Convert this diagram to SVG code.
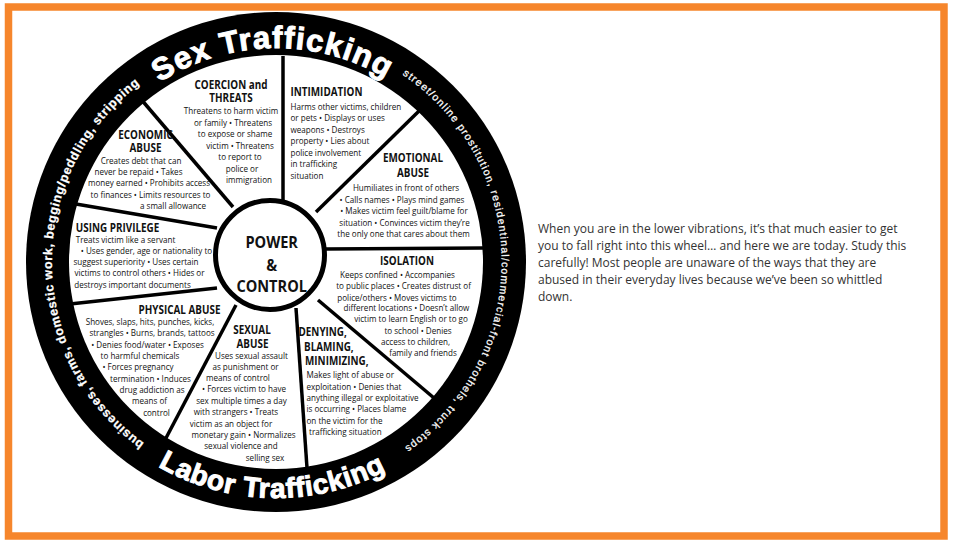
<svg xmlns="http://www.w3.org/2000/svg" xmlns:xlink="http://www.w3.org/1999/xlink" width="953" height="547" viewBox="0 0 953 547">
<style>
.b{font-family:"Open Sans","Liberation Sans",sans-serif;font-size:9.4px;fill:#111;text-anchor:middle}
.bl{font-family:"Open Sans","Liberation Sans",sans-serif;font-size:9.4px;fill:#111;text-anchor:start}
.h{font-family:"Open Sans","Liberation Sans",sans-serif;font-size:11.5px;font-weight:700;fill:#111;text-anchor:middle}
.hl{font-family:"Open Sans","Liberation Sans",sans-serif;font-size:11.5px;font-weight:700;fill:#111;text-anchor:start}
.hub{font-family:"Open Sans","Liberation Sans",sans-serif;font-size:15.5px;font-weight:700;fill:#111;text-anchor:middle}
.big{font-family:"Liberation Sans",Arial,sans-serif;font-weight:700;fill:#fff;stroke:#fff;stroke-width:1}
.ring{font-family:"Liberation Sans",Arial,sans-serif;fill:#fff;stroke:#fff;stroke-width:0.25}
.spoke{stroke:#000;stroke-width:3.5;fill:none;stroke-linecap:butt}
.para{font-family:"Open Sans","Liberation Sans",sans-serif;font-size:12px;fill:#333}
</style>
<defs>
<path id="pSex" d="M 159.5 82.5 A 214 214 0 0 1 389.4 80.5"/>
<path id="pLabor" d="M 158 466.4 A 236 236 0 0 0 390.4 468.4"/>
<path id="pRight" d="M 402.4 74.6 A 226 226 0 0 1 401.3 449.5"/>
<path id="pLeft" d="M 144.3 443.2 A 224 224 0 0 1 141.2 83.1"/>
</defs>
<rect x="0" y="0" width="953" height="547" fill="#fff"/>
<rect x="8.5" y="7" width="935.5" height="529" fill="none" stroke="#F6862C" stroke-width="7.5"/>

<g id="wheel">
<circle cx="276" cy="262" r="250" fill="#000"/>
<circle cx="276" cy="262" r="207" fill="#fff"/>
</g>

<g id="connectors">
<line class="spoke" x1="140" y1="98" x2="233" y2="207"/>
<line class="spoke" x1="283" y1="56" x2="283" y2="200"/>
<line class="spoke" x1="419" y1="111" x2="316" y2="212"/>
<line class="spoke" x1="483" y1="248" x2="325" y2="249"/>
<line class="spoke" x1="318" y1="300" x2="434" y2="398"/>
<line class="spoke" x1="296" y1="308" x2="307" y2="468"/>
<line class="spoke" x1="236" y1="305" x2="166" y2="438"/>
<line class="spoke" x1="70" y1="304" x2="217" y2="288"/>
<line class="spoke" x1="70" y1="203" x2="217" y2="228"/>
</g>

<g id="ring-labels">
<text class="big" font-size="31"><textPath xlink:href="#pSex" textLength="238" lengthAdjust="spacing">Sex Trafficking</textPath></text>
<text class="big" font-size="28"><textPath xlink:href="#pLabor" textLength="238" lengthAdjust="spacing">Labor Trafficking</textPath></text>
<text class="ring" font-size="10.5" letter-spacing="0.4"><textPath xlink:href="#pRight" textLength="438" lengthAdjust="spacing">street/online prostitution, residentinal/commercial-front brothels, truck stops</textPath></text>
<text class="ring" font-size="12.5" font-weight="700"><textPath xlink:href="#pLeft" textLength="416" lengthAdjust="spacing">businesses, farms, domestic work, begging/peddling, stripping</textPath></text>
</g>

<g id="hub">
<circle cx="270" cy="255" r="54.5" fill="#fff" stroke="#000" stroke-width="5"/>
<text class="hub" transform="translate(271.7 248.3) scale(.94 1)">POWER</text>
<text class="hub" transform="translate(271.7 271) scale(.94 1)">&amp;</text>
<text class="hub" transform="translate(271.7 291.7) scale(.94 1)">CONTROL</text>
</g>

<g id="coercion">
<text class="h" transform="translate(231 89) scale(.86 1)">COERCION and</text>
<text class="h" transform="translate(231 102) scale(.86 1)">THREATS</text>
<text class="b" transform="translate(231 114) scale(.86 1)">Threatens to harm victim</text>
<text class="b" transform="translate(233 125.5) scale(.86 1)">or family • Threatens</text>
<text class="b" transform="translate(235 137) scale(.86 1)">to expose or shame</text>
<text class="b" transform="translate(240 148.5) scale(.86 1)">victim • Threatens</text>
<text class="b" transform="translate(240 160) scale(.86 1)">to report to</text>
<text class="b" transform="translate(242 171.5) scale(.86 1)">police or</text>
<text class="b" transform="translate(249 183) scale(.86 1)">immigration</text>
</g>

<g id="intimidation">
<text class="hl" transform="translate(290.5 95.5) scale(.86 1)">INTIMIDATION</text>
<text class="bl" transform="translate(290.5 109.5) scale(.86 1)">Harms other victims, children</text>
<text class="bl" transform="translate(290.5 121) scale(.86 1)">or pets • Displays or uses</text>
<text class="bl" transform="translate(290.5 132.5) scale(.86 1)">weapons • Destroys</text>
<text class="bl" transform="translate(290.5 144) scale(.86 1)">property • Lies about</text>
<text class="bl" transform="translate(290.5 155.5) scale(.86 1)">police involvement</text>
<text class="bl" transform="translate(290.5 167) scale(.86 1)">in trafficking</text>
<text class="bl" transform="translate(290.5 178.5) scale(.86 1)">situation</text>
</g>

<g id="emotional">
<text class="h" transform="translate(413 161.5) scale(.86 1)">EMOTIONAL</text>
<text class="h" transform="translate(413 176.5) scale(.86 1)">ABUSE</text>
<text class="b" transform="translate(406 191) scale(.86 1)">Humiliates in front of others</text>
<text class="b" transform="translate(402 202.5) scale(.86 1)">• Calls names • Plays mind games</text>
<text class="b" transform="translate(404 214) scale(.86 1)">• Makes victim feel guilt/blame for</text>
<text class="b" transform="translate(404.5 225.5) scale(.86 1)">situation • Convinces victim they’re</text>
<text class="b" transform="translate(403.5 237) scale(.86 1)">the only one that cares about them</text>
</g>

<g id="isolation">
<text class="h" transform="translate(407 265) scale(.86 1)">ISOLATION</text>
<text class="b" transform="translate(397.5 277.5) scale(.86 1)">Keeps confined • Accompanies</text>
<text class="b" transform="translate(403.5 289) scale(.86 1)">to public places • Creates distrust of</text>
<text class="b" transform="translate(397 300.5) scale(.86 1)">police/others • Moves victims to</text>
<text class="b" transform="translate(406.5 311) scale(.86 1)">different locations • Doesn’t allow</text>
<text class="b" transform="translate(411 322) scale(.86 1)">victim to learn English or to go</text>
<text class="b" transform="translate(418 333.5) scale(.86 1)">to school • Denies</text>
<text class="b" transform="translate(415.5 344.5) scale(.86 1)">access to children,</text>
<text class="b" transform="translate(423 356) scale(.86 1)">family and friends</text>
</g>

<g id="denying">
<text class="hl" transform="translate(298.5 335.5) scale(.86 1)">DENYING,</text>
<text class="hl" transform="translate(304 350.5) scale(.86 1)">BLAMING,</text>
<text class="hl" transform="translate(305 365) scale(.86 1)">MINIMIZING,</text>
<text class="bl" transform="translate(306.5 378) scale(.86 1)">Makes light of abuse or</text>
<text class="bl" transform="translate(306.5 389.5) scale(.86 1)">exploitation • Denies that</text>
<text class="bl" transform="translate(306.5 401) scale(.86 1)">anything illegal or exploitative</text>
<text class="bl" transform="translate(306.5 412) scale(.86 1)">is occurring • Places blame</text>
<text class="bl" transform="translate(306.5 423.5) scale(.86 1)">on the victim for the</text>
<text class="bl" transform="translate(309 435) scale(.86 1)">trafficking situation</text>
</g>

<g id="sexual">
<text class="h" transform="translate(252 333.5) scale(.86 1)">SEXUAL</text>
<text class="h" transform="translate(252.5 348) scale(.86 1)">ABUSE</text>
<text class="b" transform="translate(251.5 358.5) scale(.86 1)">Uses sexual assault</text>
<text class="b" transform="translate(245.5 370) scale(.86 1)">as punishment or</text>
<text class="b" transform="translate(238 381) scale(.86 1)">means of control</text>
<text class="b" transform="translate(244 392) scale(.86 1)">• Forces victim to have</text>
<text class="b" transform="translate(241.5 403.5) scale(.86 1)">sex multiple times a day</text>
<text class="b" transform="translate(236 415) scale(.86 1)">with strangers • Treats</text>
<text class="b" transform="translate(231 426.5) scale(.86 1)">victim as an object for</text>
<text class="b" transform="translate(243.5 437.5) scale(.86 1)">monetary gain • Normalizes</text>
<text class="b" transform="translate(241 449) scale(.86 1)">sexual violence and</text>
<text class="b" transform="translate(265 460.5) scale(.86 1)">selling sex</text>
</g>

<g id="physical">
<text class="h" transform="translate(179.5 314) scale(.86 1)">PHYSICAL ABUSE</text>
<text class="b" transform="translate(150 325) scale(.86 1)">Shoves, slaps, hits, punches, kicks,</text>
<text class="b" transform="translate(152 336) scale(.86 1)">strangles • Burns, brands, tattoos</text>
<text class="b" transform="translate(147.5 347.5) scale(.86 1)">• Denies food/water • Exposes</text>
<text class="b" transform="translate(140 358.5) scale(.86 1)">to harmful chemicals</text>
<text class="b" transform="translate(138 370) scale(.86 1)">• Forces pregnancy</text>
<text class="b" transform="translate(150.5 381.5) scale(.86 1)">termination • Induces</text>
<text class="b" transform="translate(152 392.5) scale(.86 1)">drug addiction as</text>
<text class="b" transform="translate(149.5 404) scale(.86 1)">means of</text>
<text class="b" transform="translate(156.5 415.5) scale(.86 1)">control</text>
</g>

<g id="privilege">
<text class="h" transform="translate(117.5 231.5) scale(.86 1)">USING PRIVILEGE</text>
<text class="b" transform="translate(125.5 242.5) scale(.86 1)">Treats victim like a servant</text>
<text class="b" transform="translate(146.5 254) scale(.86 1)">• Uses gender, age or nationality to</text>
<text class="b" transform="translate(136 265) scale(.86 1)">suggest superiority • Uses certain</text>
<text class="b" transform="translate(139.5 276) scale(.86 1)">victims to control others • Hides or</text>
<text class="b" transform="translate(132.5 287.5) scale(.86 1)">destroys important documents</text>
</g>

<g id="economic">
<text class="h" transform="translate(145.5 138.5) scale(.86 1)">ECONOMIC</text>
<text class="h" transform="translate(145.5 152) scale(.86 1)">ABUSE</text>
<text class="b" transform="translate(141 163.5) scale(.86 1)">Creates debt that can</text>
<text class="b" transform="translate(138.5 175) scale(.86 1)">never be repaid • Takes</text>
<text class="b" transform="translate(149 186) scale(.86 1)">money earned • Prohibits access</text>
<text class="b" transform="translate(150.5 197.5) scale(.86 1)">to finances • Limits resources to</text>
<text class="b" transform="translate(173 208.5) scale(.86 1)">a small allowance</text>
</g>

<g id="paragraph">
<text class="para" x="538" y="232.5">When you are in the lower vibrations, it’s that much easier to get</text>
<text class="para" x="538" y="249.6">you to fall right into this wheel… and here we are today. Study this</text>
<text class="para" x="538" y="266.7">carefully! Most people are unaware of the ways that they are</text>
<text class="para" x="538" y="283.8">abused in their everyday lives because we’ve been so whittled</text>
<text class="para" x="538" y="300.9">down.</text>
</g>
</svg>
